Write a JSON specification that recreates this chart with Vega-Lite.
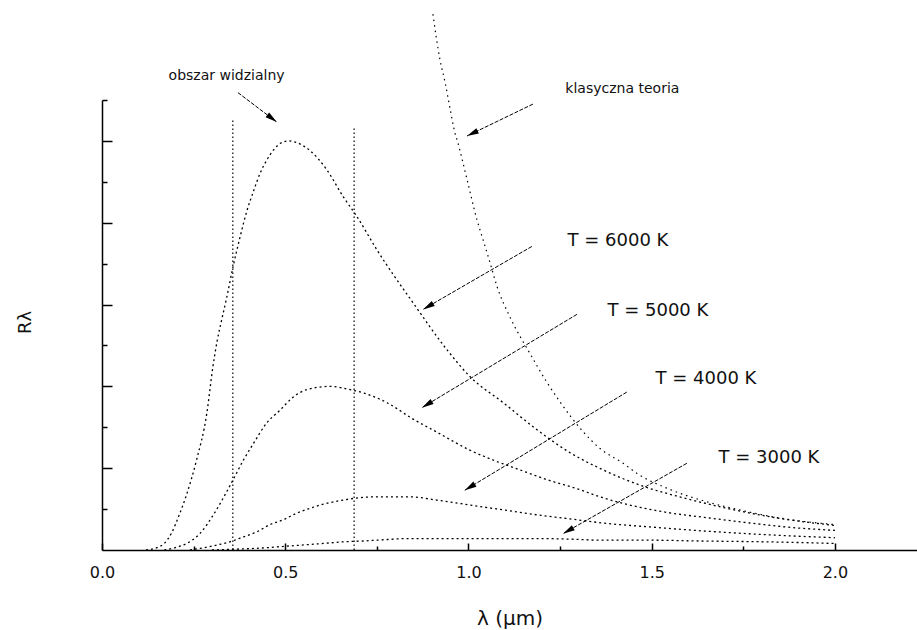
{
  "$schema": "https://vega.github.io/schema/vega-lite/v6.json",
  "width": 815,
  "height": 450,
  "autosize": {"type": "none"},
  "padding": {"left": 102, "top": 100, "right": 0, "bottom": 80},
  "background": "white",
  "config": {
    "view": {"stroke": null},
    "font": "DejaVu Sans",
    "axis": {"grid": false, "domainColor": "#000", "tickColor": "#000", "labelColor": "#111", "titleColor": "#111", "titleFontWeight": "normal"}
  },
  "datasets": {
    "curves": [
      {"curve": "6000 K", "lambda": 0.12, "R": 0.0},
      {"curve": "6000 K", "lambda": 0.15, "R": 0.03},
      {"curve": "6000 K", "lambda": 0.17, "R": 0.08},
      {"curve": "6000 K", "lambda": 0.19, "R": 0.21},
      {"curve": "6000 K", "lambda": 0.21, "R": 0.42},
      {"curve": "6000 K", "lambda": 0.231, "R": 0.68},
      {"curve": "6000 K", "lambda": 0.258, "R": 1.1},
      {"curve": "6000 K", "lambda": 0.286, "R": 1.67},
      {"curve": "6000 K", "lambda": 0.302, "R": 2.22},
      {"curve": "6000 K", "lambda": 0.314, "R": 2.55},
      {"curve": "6000 K", "lambda": 0.327, "R": 2.82},
      {"curve": "6000 K", "lambda": 0.34, "R": 3.08},
      {"curve": "6000 K", "lambda": 0.358, "R": 3.47},
      {"curve": "6000 K", "lambda": 0.377, "R": 3.83},
      {"curve": "6000 K", "lambda": 0.395, "R": 4.14},
      {"curve": "6000 K", "lambda": 0.413, "R": 4.38},
      {"curve": "6000 K", "lambda": 0.431, "R": 4.6},
      {"curve": "6000 K", "lambda": 0.449, "R": 4.76},
      {"curve": "6000 K", "lambda": 0.47, "R": 4.9},
      {"curve": "6000 K", "lambda": 0.49, "R": 4.98},
      {"curve": "6000 K", "lambda": 0.51, "R": 5.0},
      {"curve": "6000 K", "lambda": 0.531, "R": 4.98},
      {"curve": "6000 K", "lambda": 0.568, "R": 4.88},
      {"curve": "6000 K", "lambda": 0.613, "R": 4.65},
      {"curve": "6000 K", "lambda": 0.658, "R": 4.32},
      {"curve": "6000 K", "lambda": 0.695, "R": 4.08},
      {"curve": "6000 K", "lambda": 0.75, "R": 3.67},
      {"curve": "6000 K", "lambda": 0.849, "R": 3.02},
      {"curve": "6000 K", "lambda": 0.941, "R": 2.45},
      {"curve": "6000 K", "lambda": 1.004, "R": 2.12},
      {"curve": "6000 K", "lambda": 1.095, "R": 1.8},
      {"curve": "6000 K", "lambda": 1.187, "R": 1.47},
      {"curve": "6000 K", "lambda": 1.277, "R": 1.19},
      {"curve": "6000 K", "lambda": 1.367, "R": 0.98},
      {"curve": "6000 K", "lambda": 1.476, "R": 0.78},
      {"curve": "6000 K", "lambda": 1.585, "R": 0.64},
      {"curve": "6000 K", "lambda": 1.705, "R": 0.51},
      {"curve": "6000 K", "lambda": 1.831, "R": 0.4},
      {"curve": "6000 K", "lambda": 2.0, "R": 0.3},
      {"curve": "5000 K", "lambda": 0.17, "R": 0.0},
      {"curve": "5000 K", "lambda": 0.2, "R": 0.03},
      {"curve": "5000 K", "lambda": 0.231, "R": 0.08},
      {"curve": "5000 K", "lambda": 0.267, "R": 0.2},
      {"curve": "5000 K", "lambda": 0.304, "R": 0.43},
      {"curve": "5000 K", "lambda": 0.34, "R": 0.71},
      {"curve": "5000 K", "lambda": 0.358, "R": 0.86},
      {"curve": "5000 K", "lambda": 0.386, "R": 1.1},
      {"curve": "5000 K", "lambda": 0.413, "R": 1.3},
      {"curve": "5000 K", "lambda": 0.449, "R": 1.55},
      {"curve": "5000 K", "lambda": 0.486, "R": 1.71},
      {"curve": "5000 K", "lambda": 0.522, "R": 1.87},
      {"curve": "5000 K", "lambda": 0.559, "R": 1.96},
      {"curve": "5000 K", "lambda": 0.622, "R": 2.0},
      {"curve": "5000 K", "lambda": 0.677, "R": 1.96},
      {"curve": "5000 K", "lambda": 0.713, "R": 1.92},
      {"curve": "5000 K", "lambda": 0.75, "R": 1.86},
      {"curve": "5000 K", "lambda": 0.778, "R": 1.8},
      {"curve": "5000 K", "lambda": 0.849, "R": 1.6},
      {"curve": "5000 K", "lambda": 0.914, "R": 1.44},
      {"curve": "5000 K", "lambda": 1.004, "R": 1.22},
      {"curve": "5000 K", "lambda": 1.067, "R": 1.1},
      {"curve": "5000 K", "lambda": 1.14, "R": 0.98},
      {"curve": "5000 K", "lambda": 1.214, "R": 0.86},
      {"curve": "5000 K", "lambda": 1.296, "R": 0.75},
      {"curve": "5000 K", "lambda": 1.359, "R": 0.65},
      {"curve": "5000 K", "lambda": 1.449, "R": 0.54},
      {"curve": "5000 K", "lambda": 1.541, "R": 0.46},
      {"curve": "5000 K", "lambda": 1.659, "R": 0.39},
      {"curve": "5000 K", "lambda": 1.768, "R": 0.33},
      {"curve": "5000 K", "lambda": 1.869, "R": 0.28},
      {"curve": "5000 K", "lambda": 2.0, "R": 0.24},
      {"curve": "4000 K", "lambda": 0.24, "R": 0.0},
      {"curve": "4000 K", "lambda": 0.28, "R": 0.03},
      {"curve": "4000 K", "lambda": 0.313, "R": 0.06},
      {"curve": "4000 K", "lambda": 0.349, "R": 0.1},
      {"curve": "4000 K", "lambda": 0.386, "R": 0.16},
      {"curve": "4000 K", "lambda": 0.422, "R": 0.22},
      {"curve": "4000 K", "lambda": 0.458, "R": 0.31},
      {"curve": "4000 K", "lambda": 0.495, "R": 0.37},
      {"curve": "4000 K", "lambda": 0.531, "R": 0.45},
      {"curve": "4000 K", "lambda": 0.568, "R": 0.51},
      {"curve": "4000 K", "lambda": 0.604, "R": 0.56},
      {"curve": "4000 K", "lambda": 0.658, "R": 0.61},
      {"curve": "4000 K", "lambda": 0.704, "R": 0.64},
      {"curve": "4000 K", "lambda": 0.75, "R": 0.65},
      {"curve": "4000 K", "lambda": 0.84, "R": 0.65},
      {"curve": "4000 K", "lambda": 0.913, "R": 0.61},
      {"curve": "4000 K", "lambda": 1.004, "R": 0.55},
      {"curve": "4000 K", "lambda": 1.095, "R": 0.49},
      {"curve": "4000 K", "lambda": 1.187, "R": 0.43},
      {"curve": "4000 K", "lambda": 1.277, "R": 0.38},
      {"curve": "4000 K", "lambda": 1.367, "R": 0.33},
      {"curve": "4000 K", "lambda": 1.5, "R": 0.28},
      {"curve": "4000 K", "lambda": 1.65, "R": 0.23},
      {"curve": "4000 K", "lambda": 1.8, "R": 0.19},
      {"curve": "4000 K", "lambda": 2.0, "R": 0.15},
      {"curve": "3000 K", "lambda": 0.3, "R": 0.0},
      {"curve": "3000 K", "lambda": 0.36, "R": 0.01},
      {"curve": "3000 K", "lambda": 0.42, "R": 0.02},
      {"curve": "3000 K", "lambda": 0.513, "R": 0.05},
      {"curve": "3000 K", "lambda": 0.604, "R": 0.08},
      {"curve": "3000 K", "lambda": 0.658, "R": 0.1},
      {"curve": "3000 K", "lambda": 0.713, "R": 0.11},
      {"curve": "3000 K", "lambda": 0.75, "R": 0.12},
      {"curve": "3000 K", "lambda": 0.84, "R": 0.14},
      {"curve": "3000 K", "lambda": 1.004, "R": 0.14},
      {"curve": "3000 K", "lambda": 1.187, "R": 0.14},
      {"curve": "3000 K", "lambda": 1.296, "R": 0.13},
      {"curve": "3000 K", "lambda": 1.359, "R": 0.12},
      {"curve": "3000 K", "lambda": 1.495, "R": 0.12},
      {"curve": "3000 K", "lambda": 1.632, "R": 0.11},
      {"curve": "3000 K", "lambda": 1.81, "R": 0.1},
      {"curve": "3000 K", "lambda": 2.0, "R": 0.08}
    ],
    "classical": [
      {"lambda": 0.903, "R": 6.55},
      {"lambda": 0.922, "R": 6.0},
      {"lambda": 0.936, "R": 5.72},
      {"lambda": 0.95, "R": 5.39},
      {"lambda": 0.963, "R": 5.1},
      {"lambda": 0.971, "R": 4.98},
      {"lambda": 0.995, "R": 4.55},
      {"lambda": 1.023, "R": 4.04},
      {"lambda": 1.04, "R": 3.79},
      {"lambda": 1.059, "R": 3.51},
      {"lambda": 1.078, "R": 3.22},
      {"lambda": 1.113, "R": 2.85},
      {"lambda": 1.168, "R": 2.4},
      {"lambda": 1.214, "R": 2.05},
      {"lambda": 1.25, "R": 1.81},
      {"lambda": 1.312, "R": 1.45},
      {"lambda": 1.359, "R": 1.24},
      {"lambda": 1.422, "R": 1.06},
      {"lambda": 1.462, "R": 0.93},
      {"lambda": 1.55, "R": 0.74},
      {"lambda": 1.65, "R": 0.59},
      {"lambda": 1.75, "R": 0.48},
      {"lambda": 1.85, "R": 0.39},
      {"lambda": 2.0, "R": 0.31}
    ],
    "visible": [
      {"lambda": 0.357, "R": 0, "R2": 5.26},
      {"lambda": 0.688, "R": 0, "R2": 5.16}
    ],
    "arrows": [
      {"x0": 0.371, "y0": 5.59, "x1": 0.477, "y1": 5.23},
      {"x0": 1.176, "y0": 5.45, "x1": 0.996, "y1": 5.06},
      {"x0": 1.173, "y0": 3.71, "x1": 0.876, "y1": 2.94},
      {"x0": 1.296, "y0": 2.88, "x1": 0.873, "y1": 1.74},
      {"x0": 1.432, "y0": 1.93, "x1": 0.99, "y1": 0.73},
      {"x0": 1.596, "y0": 1.06, "x1": 1.258, "y1": 0.2}
    ],
    "captions": [
      {"label": "obszar widzialny", "lambda": 0.34, "R": 5.79},
      {"label": "klasyczna teoria", "lambda": 1.42, "R": 5.63}
    ],
    "temps": [
      {"label": "T = 6000 K", "lambda": 1.408, "R": 3.78},
      {"label": "T = 5000 K", "lambda": 1.517, "R": 2.92},
      {"label": "T = 4000 K", "lambda": 1.648, "R": 2.09},
      {"label": "T = 3000 K", "lambda": 1.82, "R": 1.13}
    ]
  },
  "layer": [
    {
      "data": {"name": "curves"},
      "mark": {"type": "line", "interpolate": "monotone", "color": "#000", "strokeWidth": 1.3, "strokeDash": [2, 3]},
      "encoding": {
        "x": {
          "field": "lambda", "type": "quantitative",
          "scale": {"domain": [0, 2.224], "nice": false, "zero": false},
          "axis": {
            "orient": "bottom", "values": [0, 0.5, 1, 1.5, 2], "format": ".1f",
            "tickSize": -7, "tickWidth": 1.5, "domainWidth": 1.5,
            "labelPadding": 21, "labelFontSize": 16, "labelFlush": false,
            "title": "λ (µm)", "titleFontSize": 20, "titleY": 74, "titleBaseline": "alphabetic"
          }
        },
        "y": {
          "field": "R", "type": "quantitative",
          "scale": {"domain": [0, 5.5], "nice": false, "zero": false},
          "axis": {
            "orient": "left", "values": [1, 2, 3, 4, 5], "labels": false,
            "tickSize": -10, "tickWidth": 1.5, "domainWidth": 1.5,
            "title": "Rλ", "titleFontSize": 18, "titleAngle": -90,
            "titleX": -77, "titleY": 222, "titleAlign": "center", "titleBaseline": "middle"
          }
        },
        "detail": {"field": "curve", "type": "nominal"}
      }
    },
    {
      "data": {"name": "visible"},
      "mark": {"type": "rule", "color": "#000", "strokeWidth": 1.2, "strokeDash": [1.5, 2.5]},
      "encoding": {
        "x": {
          "field": "lambda", "type": "quantitative",
          "scale": {"domain": [0, 2.224], "nice": false, "zero": false},
          "axis": {"orient": "bottom", "values": [0.25, 0.75, 1.25, 1.75], "labels": false, "domain": false, "tickSize": -4, "tickWidth": 1.5, "title": null}
        },
        "y": {
          "field": "R", "type": "quantitative",
          "scale": {"domain": [0, 5.5], "nice": false, "zero": false},
          "axis": {"orient": "left", "values": [0.5, 1.5, 2.5, 3.5, 4.5, 5.5], "labels": false, "domain": false, "tickSize": -5, "tickWidth": 1.5, "title": null}
        },
        "y2": {"field": "R2"}
      }
    },
    {
      "data": {"name": "classical"},
      "mark": {"type": "line", "interpolate": "monotone", "color": "#000", "strokeWidth": 1.2, "strokeDash": [1.5, 4]},
      "encoding": {
        "x": {"field": "lambda", "type": "quantitative", "scale": {"domain": [0, 2.224], "nice": false, "zero": false}, "axis": null},
        "y": {"field": "R", "type": "quantitative", "scale": {"domain": [0, 5.5], "nice": false, "zero": false}, "axis": null}
      }
    },
    {
      "data": {"name": "arrows"},
      "mark": {"type": "rule", "color": "#000", "strokeWidth": 1, "strokeDash": [4, 1.5]},
      "encoding": {
        "x": {"field": "x0", "type": "quantitative", "scale": {"domain": [0, 2.224], "nice": false, "zero": false}, "axis": null},
        "y": {"field": "y0", "type": "quantitative", "scale": {"domain": [0, 5.5], "nice": false, "zero": false}, "axis": null},
        "x2": {"field": "x1"},
        "y2": {"field": "y1"}
      }
    },
    {
      "data": {"name": "arrows"},
      "transform": [
        {"calculate": "atan2((datum.x1 - datum.x0) * 366.5, (datum.y1 - datum.y0) * 81.82) * 180 / PI", "as": "angle"}
      ],
      "mark": {"type": "point", "shape": "M0,0L0.5,2L-0.5,2Z", "filled": true, "color": "#000", "size": 140, "opacity": 1, "strokeWidth": 0},
      "encoding": {
        "x": {"field": "x1", "type": "quantitative", "scale": {"domain": [0, 2.224], "nice": false, "zero": false}, "axis": null},
        "y": {"field": "y1", "type": "quantitative", "scale": {"domain": [0, 5.5], "nice": false, "zero": false}, "axis": null},
        "angle": {"field": "angle", "type": "quantitative", "scale": null}
      }
    },
    {
      "data": {"name": "captions"},
      "mark": {"type": "text", "align": "center", "baseline": "middle", "fontSize": 14, "color": "#111"},
      "encoding": {
        "x": {"field": "lambda", "type": "quantitative", "scale": {"domain": [0, 2.224], "nice": false, "zero": false}, "axis": null},
        "y": {"field": "R", "type": "quantitative", "scale": {"domain": [0, 5.5], "nice": false, "zero": false}, "axis": null},
        "text": {"field": "label"}
      }
    },
    {
      "data": {"name": "temps"},
      "mark": {"type": "text", "align": "center", "baseline": "middle", "fontSize": 18, "color": "#111"},
      "encoding": {
        "x": {"field": "lambda", "type": "quantitative", "scale": {"domain": [0, 2.224], "nice": false, "zero": false}, "axis": null},
        "y": {"field": "R", "type": "quantitative", "scale": {"domain": [0, 5.5], "nice": false, "zero": false}, "axis": null},
        "text": {"field": "label"}
      }
    }
  ],
  "resolve": {"axis": {"x": "independent", "y": "independent"}}
}
